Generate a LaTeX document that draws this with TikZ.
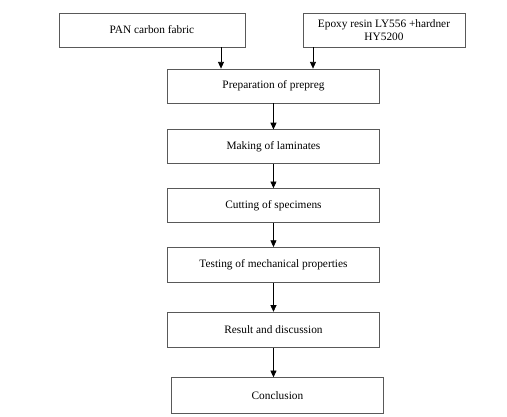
\documentclass[tikz,border=0pt]{standalone}
\usepackage{fontspec}
\setmainfont{Liberation Serif}
\usepackage{tikz}
\usetikzlibrary{arrows.meta,positioning}

\begin{document}
\begin{tikzpicture}[
  node distance=18pt,
  stepbox/.style={rectangle, draw=black!65, line width=0.6pt, minimum width=159pt, minimum height=25.5pt, align=center, font=\fontsize{8.5}{9.75}\selectfont},
  inbox/.style={stepbox, minimum height=25.5pt},
  arrow/.style={-{Triangle[length=5pt, width=4.5pt]}, line width=0.5pt},
]
  \useasboundingbox (0,0) rectangle (380.25pt,-312.75pt);

  % inputs
  \node[inbox, minimum width=139.5pt] (pan) at (114pt,-22.5pt) {PAN carbon fabric};
  \node[inbox, minimum width=121.5pt] (epoxy) at (288pt,-22.5pt) {Epoxy resin LY556 +hardner\\HY5200};

  % process chain
  \node[stepbox] (prep) at (205.1pt,-64.5pt) {Preparation of prepreg};
  \node[stepbox, below=19.5pt of prep] (lam) {Making of laminates};
  \node[stepbox, below=of lam] (cut) {Cutting of specimens};
  \node[stepbox, below=of cut, minimum height=26.5pt] (test) {Testing of mechanical properties};
  \node[stepbox, below=21.5pt of test, minimum height=26.5pt] (result) {Result and discussion};
  \node[stepbox, below=22pt of result, xshift=3pt, minimum height=26.5pt] (concl) {Conclusion};

  \draw[arrow] ([xshift=51.75pt]pan.south) -- ([xshift=51.75pt]pan.south |- prep.north);
  \draw[arrow] ([xshift=-53.25pt]epoxy.south) -- ([xshift=-53.25pt]epoxy.south |- prep.north);
  \draw[arrow] (prep) -- (lam);
  \draw[arrow] (lam) -- (cut);
  \draw[arrow] (cut) -- (test);
  \draw[arrow] (test) -- (result);
  \draw[arrow] (result.south) -- (result.south |- concl.north);
\end{tikzpicture}
\end{document}
